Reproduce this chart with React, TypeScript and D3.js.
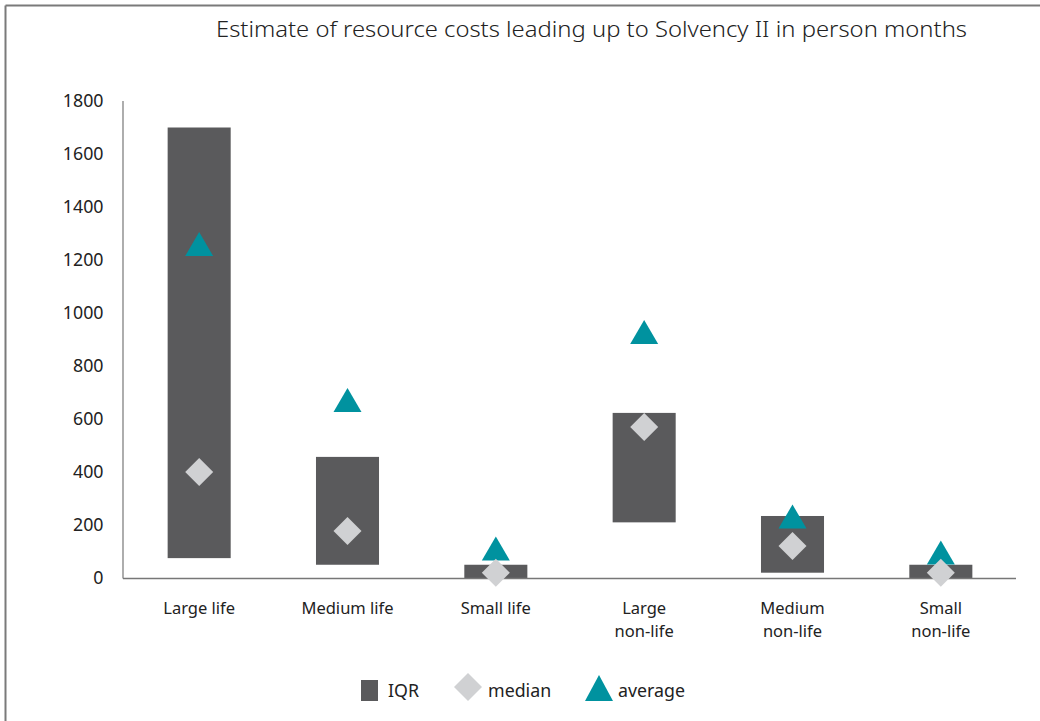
import React from "react";
import * as d3 from "d3";

const categories: string[][] = [
  ["Large life"],
  ["Medium life"],
  ["Small life"],
  ["Large", "non-life"],
  ["Medium", "non-life"],
  ["Small", "non-life"],
];
const iqrLow = [75, 50, 0, 210, 20, 0];
const iqrHigh = [1700, 457, 50, 623, 234, 50];
const medians = [400, 177, 20, 570, 121, 20];
const averages = [1260, 672, 111, 928, 232, 96];
const yTicks = [0, 200, 400, 600, 800, 1000, 1200, 1400, 1600, 1800];
const title = "Estimate of resource costs leading up to Solvency II in person months";
const legendItems = ["IQR", "median", "average"];

const W = 1040;
const H = 721;
const FONT = "'Noto Sans', 'Open Sans', sans-serif";
const FS = 17.8;
const XFS = 16.5;
const BAR = "#5a5a5c";
const MED = "#d0d1d3";
const AVG = "#00929f";

export default function App() {
  const left = 123;
  const right = 1016;
  const y = d3.scaleLinear().domain([0, 1800]).range([578, 101]);
  const x = d3
    .scaleBand<number>()
    .domain(categories.map((_, i) => i))
    .range([125, 1015])
    .paddingInner(0.575)
    .paddingOuter(0.2875);
  const bw = x.bandwidth();
  const cx = (i: number) => (x(i) as number) + bw / 2;

  const diamond = (s: number) => `M0,${-s}L${s},0L0,${s}L${-s},0Z`;
  const tri = (w: number, h: number) => `M0,${-h / 2}L${w / 2},${h / 2}L${-w / 2},${h / 2}Z`;

  return (
    <div style={{ position: "absolute", left: 0, top: 0 }}>
      <svg width={W} height={H} style={{ display: "block" }}>
        <rect x={0} y={0} width={W} height={H} fill="#fff" />
        <line x1={5.5} y1={5.5} x2={W} y2={5.5} stroke="#7a7a7a" strokeWidth={2} />
        <line x1={5.5} y1={5.5} x2={5.5} y2={H} stroke="#7a7a7a" strokeWidth={2} />
        <text
          x={591.5}
          y={37}
          textAnchor="middle"
          fontFamily={FONT}
          fontSize={21.5}
          fontWeight={300}
          fill="#222"
          textLength={751}
          lengthAdjust="spacingAndGlyphs"
        >
          {title}
        </text>
        {yTicks.map((t) => (
          <text
            key={t}
            x={103.5}
            y={y(t)}
            dy="0.35em"
            textAnchor="end"
            fontFamily={FONT}
            fontSize={FS}
            fill="#222"
          >
            {t}
          </text>
        ))}
        {categories.map((c, i) => (
          <rect
            key={"b" + i}
            x={x(i)}
            y={y(iqrHigh[i])}
            width={bw}
            height={y(iqrLow[i]) - y(iqrHigh[i])}
            fill={BAR}
          />
        ))}
        <line x1={left} y1={101} x2={left} y2={578.5} stroke="#777" strokeWidth={1.2} />
        <line x1={left} y1={578.5} x2={right} y2={578.5} stroke="#777" strokeWidth={1.5} />
        {categories.map((c, i) => (
          <path
            key={"a" + i}
            d={tri(28, 24)}
            transform={`translate(${cx(i)},${y(averages[i])})`}
            fill={AVG}
          />
        ))}
        {categories.map((c, i) => (
          <path
            key={"m" + i}
            d={diamond(14)}
            transform={`translate(${cx(i)},${y(medians[i])})`}
            fill={MED}
          />
        ))}
        {categories.map((c, i) =>
          c.map((line, j) => (
            <text
              key={"l" + i + "_" + j}
              x={cx(i)}
              y={614 + j * 22.5}
              textAnchor="middle"
              fontFamily={FONT}
              fontSize={XFS}
              fill="#222"
            >
              {line}
            </text>
          ))
        )}
        <g fontFamily={FONT} fontSize={FS} fill="#222">
          <rect x={361} y={680} width={17} height={21} fill={BAR} />
          <text x={388} y={696.5}>{legendItems[0]}</text>
          <path d={diamond(14)} transform="translate(468,687)" fill={MED} />
          <text x={488} y={696.5}>{legendItems[1]}</text>
          <path d={tri(28, 26)} transform="translate(599,688)" fill={AVG} />
          <text x={618} y={696.5}>{legendItems[2]}</text>
        </g>
      </svg>
    </div>
  );
}
